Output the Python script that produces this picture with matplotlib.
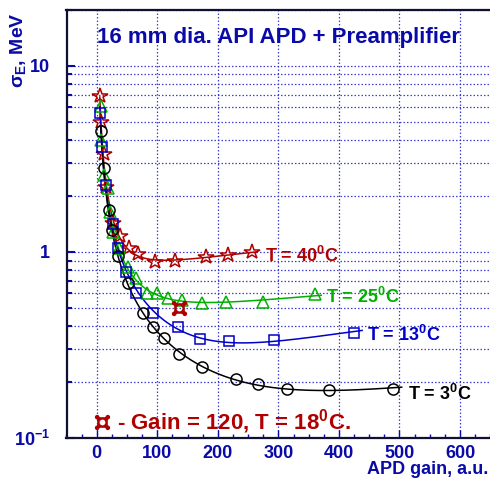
import numpy as np
import matplotlib
matplotlib.use('Agg')
import matplotlib.pyplot as plt
from matplotlib.path import Path
from matplotlib.ticker import FixedLocator, FixedFormatter, NullFormatter
from matplotlib.lines import Line2D

plt.rcParams['font.family'] = ['Liberation Sans', 'DejaVu Sans']
plt.rcParams['font.weight'] = 'bold'
plt.rcParams['mathtext.fontset'] = 'custom'
plt.rcParams['mathtext.rm'] = 'Liberation Sans:bold'
plt.rcParams['mathtext.bf'] = 'Liberation Sans:bold'
plt.rcParams['mathtext.it'] = 'Liberation Sans:bold'
plt.rcParams['mathtext.sf'] = 'Liberation Sans:bold'

# ---------------- data ----------------
gain_40 = [5, 6.6, 11.6, 16, 26.4, 38, 52.8, 67.6, 95.7, 128.6, 181, 216, 257]
sigma_40 = [6.91, 4.96, 3.34, 2.23, 1.43, 1.22, 1.05, 0.98, 0.884, 0.895, 0.94, 0.964, 1.0]

gain_25 = [7, 7.8, 11.5, 18, 21.4, 26.4, 36, 51, 64, 82.5, 99, 117, 141, 174, 214, 275, 360]
sigma_25 = [6.11, 3.97, 2.58, 2.2, 1.64, 1.28, 1.05, 0.83, 0.726, 0.604, 0.60, 0.567, 0.554, 0.53, 0.54, 0.537, 0.596]

gain_13 = [5, 9.4, 14.5, 26.4, 34.6, 49, 65.5, 93, 134, 170, 219, 292, 425.5]
sigma_13 = [5.54, 3.66, 2.3, 1.41, 1.05, 0.78, 0.604, 0.472, 0.395, 0.343, 0.331, 0.335, 0.369]

gain_3 = [6.6, 11.5, 19.8, 25.6, 34.6, 51, 76, 93, 110.5, 135, 173.7, 230, 267, 314.5, 384, 489]
sigma_3 = [4.44, 2.81, 1.68, 1.31, 0.946, 0.683, 0.472, 0.398, 0.346, 0.285, 0.24, 0.207, 0.195, 0.185, 0.181, 0.185]

gain_18 = [135]
sigma_18 = [0.502]

series_labels = ['T = 40$^{0}$C', 'T = 25$^{0}$C', 'T = 13$^{0}$C', 'T = 3$^{0}$C']
special_label = '- Gain = 120, T = 18$^{0}$C.'
title = '16 mm dia. API APD + Preamplifier'
xlabel = 'APD gain, a.u.'
ylabel = r'$\sigma_{E}$, MeV'
xticks = [0, 100, 200, 300, 400, 500, 600]
yticks = [0.1, 1, 10]
ytick_labels = [r'$10^{-1}$', '1', '10']

NAVY = '#0a0aa8'
RED = '#b00000'
GREEN = '#00b000'
BLUE = '#0000c8'
BLACK = '#000000'


def fit_curve(g, s):
    g = np.asarray(g, float)
    s = np.asarray(s, float)
    A = np.vstack([1 / g**2, 1 / g, np.ones_like(g), g]).T
    w = 1 / s**2
    coef, *_ = np.linalg.lstsq(A * w[:, None], s**2 * w, rcond=None)
    gg = np.linspace(g.min(), g.max() * 1.03, 500)
    val = np.vstack([1 / gg**2, 1 / gg, np.ones_like(gg), gg]).T @ coef
    return gg, np.sqrt(np.clip(val, 1e-4, None))


def poly_circle(cx, cy, r, n=28, cw=False):
    t = np.linspace(0, 2 * np.pi, n, endpoint=False)
    if cw:
        t = t[::-1]
    v = np.column_stack([cx + r * np.cos(t), cy + r * np.sin(t)])
    v = np.vstack([v, v[:1]])
    codes = [Path.MOVETO] + [Path.LINETO] * (n - 1) + [Path.CLOSEPOLY]
    return v, codes


def special_marker():
    verts, codes = [], []
    a = 0.55
    sq = np.array([[-a, -a], [a, -a], [a, a], [-a, a], [-a, -a]])
    verts.append(sq)
    codes += [Path.MOVETO, Path.LINETO, Path.LINETO, Path.LINETO, Path.CLOSEPOLY]
    v, c = poly_circle(0, 0, 0.3, cw=True)
    verts.append(v); codes += c
    for sx in (-1, 1):
        for sy in (-1, 1):
            v, c = poly_circle(sx * a, sy * a, 0.24)
            verts.append(v); codes += c
    return Path(np.vstack(verts), codes)


fig = plt.figure(figsize=(4.9, 4.8), dpi=100)
ax = fig.add_axes([66.5 / 490, 41.7 / 480, 423.8 / 490, 428.7 / 480])
ax.set_yscale('log')
ax.set_xlim(-50, 650)
ax.set_ylim(0.1, 20)

series = [
    (gain_40, sigma_40, RED, '*', 11.5, series_labels[0]),
    (gain_25, sigma_25, GREEN, '^', 8.5, series_labels[1]),
    (gain_13, sigma_13, BLUE, 's', 7.5, series_labels[2]),
    (gain_3, sigma_3, BLACK, 'o', 8.0, series_labels[3]),
]
label_offsets = [(9, -3), (8, -2), (9, -2), (11, -4)]
for (g, s, col, mk, ms, lab), off in zip(series, label_offsets):
    gg, ss = fit_curve(g, s)
    ax.plot(gg, ss, '-', color=col, lw=1.1, zorder=3)
    ax.plot(g, s, linestyle='none', marker=mk, ms=ms, mfc='none', mec=col,
            mew=1.1, zorder=4)
    ax.annotate(lab, xy=(g[-1], s[-1]), xytext=off, textcoords='offset points',
                ha='left', va='center', color=col, fontsize=13, fontweight='bold')

mk18 = special_marker()
ax.plot(gain_18, sigma_18, linestyle='none', marker=mk18, ms=11, mfc=RED,
        mec='none', color=RED, zorder=5)

handle = Line2D([], [], linestyle='none', marker=mk18, ms=11, mfc=RED, mec='none')
leg = ax.legend([handle], [special_label], loc='lower left',
                bbox_to_anchor=(0.023, -0.032), frameon=False, fontsize=16,
                handlelength=0.9, handletextpad=0.25, borderpad=0.2)
for t in leg.get_texts():
    t.set_color(RED)
    t.set_fontweight('bold')

# grid
ax.xaxis.set_major_locator(FixedLocator(xticks))
ax.xaxis.set_minor_locator(FixedLocator(np.arange(-50, 651, 25)))
ax.yaxis.set_major_locator(FixedLocator(yticks))
minors = [m * d for d in (0.1, 1, 10) for m in range(2, 10) if m * d <= 20]
ax.yaxis.set_minor_locator(FixedLocator(minors))
ax.yaxis.set_major_formatter(FixedFormatter(ytick_labels))
ax.yaxis.set_minor_formatter(NullFormatter())

gridkw = dict(color='#2a2ad0', linestyle=(0, (1.2, 1.6)), linewidth=0.9, alpha=0.9)
ax.grid(True, axis='x', which='major', **gridkw)
ax.grid(True, axis='y', which='both', **gridkw)
ax.set_axisbelow(True)

ax.tick_params(axis='both', which='both', direction='in', colors=NAVY,
               labelcolor=NAVY, labelsize=13)
ax.tick_params(axis='x', which='major', length=6, width=1.0, pad=5)
ax.tick_params(axis='x', which='minor', length=3, width=1.0)
ax.tick_params(axis='y', which='major', length=6, width=1.5, pad=12)
ax.tick_params(axis='y', which='minor', length=3.8, width=1.5)
for lab in ax.get_xticklabels() + ax.get_yticklabels():
    lab.set_fontweight('bold')

for side in ('left', 'bottom', 'top'):
    ax.spines[side].set_linewidth(1.6)
    ax.spines[side].set_color('#101030')
ax.spines['right'].set_visible(False)

ax.set_xlabel(xlabel, loc='right', color=NAVY, fontsize=13, fontweight='bold')
ax.xaxis.set_label_coords((488 - 66.5) / 423.8, -(461 - 438.3) / 428.7)
ax.set_ylabel(ylabel, loc='top', color=NAVY, fontsize=14, fontweight='bold')
ax.yaxis.set_label_coords((28 - 66.5) / 423.8, 1 - (12 - 9.3) / 428.7)

fig.text(97 / 490, 1 - 38 / 480, title, ha='left', va='center', color=NAVY,
         fontsize=16, fontweight='bold')

fig.savefig('out.png', dpi=100)
